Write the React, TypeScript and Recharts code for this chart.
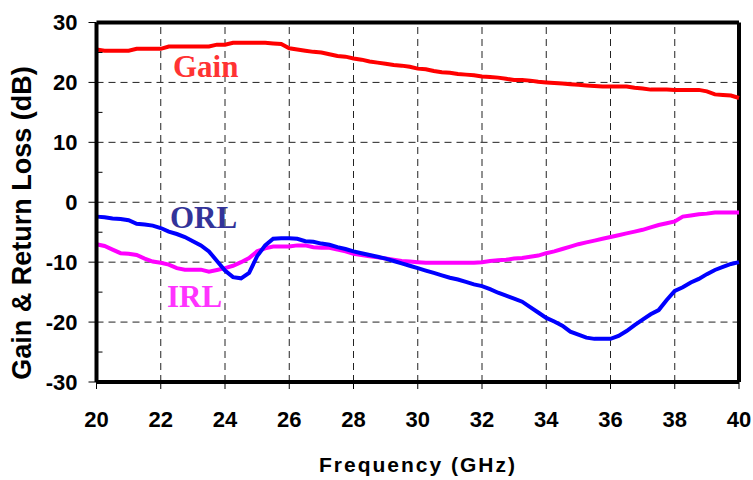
import React from 'react';
import {
  LineChart,
  Line,
  XAxis,
  YAxis,
  ReferenceLine,
} from 'recharts';

// frequency in GHz, 0.25 GHz step
const freq = [
  20, 20.25, 20.5, 20.75, 21, 21.25, 21.5, 21.75, 22, 22.25, 22.5, 22.75,
  23, 23.25, 23.5, 23.75, 24, 24.25, 24.5, 24.75, 25, 25.25, 25.5, 25.75,
  26, 26.25, 26.5, 26.75, 27, 27.25, 27.5, 27.75, 28, 28.25, 28.5, 28.75,
  29, 29.25, 29.5, 29.75, 30, 30.25, 30.5, 30.75, 31, 31.25, 31.5, 31.75,
  32, 32.25, 32.5, 32.75, 33, 33.25, 33.5, 33.75, 34, 34.25, 34.5, 34.75,
  35, 35.25, 35.5, 35.75, 36, 36.25, 36.5, 36.75, 37, 37.25, 37.5, 37.75,
  38, 38.25, 38.5, 38.75, 39, 39.25, 39.5, 39.75, 40,
];

const gain = [
  25.5, 25.3, 25.3, 25.3, 25.3, 25.6, 25.6, 25.6, 25.6, 26.0, 26.0, 26.0,
  26.0, 26.0, 26.0, 26.3, 26.3, 26.6, 26.6, 26.6, 26.6, 26.6, 26.5, 26.4,
  25.7, 25.5, 25.3, 25.1, 25.0, 24.7, 24.4, 24.3, 24.0, 23.8, 23.5, 23.3,
  23.1, 22.9, 22.8, 22.6, 22.3, 22.2, 21.9, 21.7, 21.6, 21.4, 21.3, 21.2,
  21.0, 20.9, 20.8, 20.6, 20.4, 20.4, 20.3, 20.1, 20.0, 19.9, 19.8, 19.7,
  19.6, 19.5, 19.4, 19.3, 19.3, 19.3, 19.3, 19.1, 19.0, 18.8, 18.8, 18.8,
  18.75, 18.75, 18.75, 18.75, 18.5, 18.0, 17.9, 17.8, 17.4,
];

const orl = [
  -2.4, -2.5, -2.7, -2.8, -3.0, -3.6, -3.7, -3.9, -4.3, -4.9, -5.3, -5.8,
  -6.5, -7.2, -8.2, -9.8, -11.4, -12.5, -12.7, -11.8, -9.0, -7.2, -6.1, -6.0,
  -6.0, -6.1, -6.5, -6.6, -6.9, -7.1, -7.5, -7.8, -8.2, -8.5, -8.8, -9.1,
  -9.4, -9.8, -10.2, -10.6, -11.0, -11.4, -11.8, -12.2, -12.6, -12.9, -13.3, -13.7,
  -14.0, -14.5, -15.1, -15.6, -16.1, -16.6, -17.5, -18.4, -19.3, -19.9, -20.6, -21.6,
  -22.1, -22.6, -22.8, -22.8, -22.8, -22.3, -21.5, -20.5, -19.6, -18.7, -18.0, -16.3,
  -14.8, -14.2, -13.4, -12.8, -12.0, -11.3, -10.8, -10.3, -10.0,
];

const irl = [
  -7.0, -7.3, -7.9, -8.5, -8.6, -8.8, -9.4, -9.9, -10.1, -10.4, -11.0, -11.25,
  -11.25, -11.25, -11.6, -11.3, -11.0, -10.6, -10.0, -9.3, -8.2, -7.7, -7.4, -7.4,
  -7.4, -7.2, -7.2, -7.5, -7.6, -7.6, -7.9, -8.2, -8.6, -8.8, -9.0, -9.2,
  -9.4, -9.6, -9.8, -9.9, -10.0, -10.1, -10.1, -10.1, -10.1, -10.1, -10.1, -10.1,
  -10.0, -9.8, -9.7, -9.6, -9.4, -9.3, -9.1, -8.9, -8.5, -8.2, -7.8, -7.4,
  -7.0, -6.7, -6.4, -6.1, -5.8, -5.5, -5.2, -4.9, -4.6, -4.2, -3.8, -3.5,
  -3.2, -2.4, -2.2, -2.0, -1.9, -1.7, -1.7, -1.7, -1.7,
];

const xTicks = [20, 22, 24, 26, 28, 30, 32, 34, 36, 38, 40];
const yTicks = [-30, -25, -20, -15, -10, -5, 0, 5, 10, 15, 20, 25, 30];
const xGrid = [22, 24, 26, 28, 30, 32, 34, 36, 38];
const yGrid = [-20, -10, 0, 10, 20];

const data = freq.map((f, i) => ({ f, gain: gain[i], orl: orl[i], irl: irl[i] }));

const sans = '"Liberation Sans", Arial, sans-serif';
const serif = '"Liberation Serif", "Times New Roman", serif';

// major ticks outside with a label, minor ticks inside the frame
function YTick({ x, y, payload }: any) {
  const v = payload.value;
  if (v % 10 !== 0) {
    return <line x1={x} x2={x + 6} y1={y} y2={y} stroke="#000" strokeWidth={1} />;
  }
  return (
    <g>
      <line x1={x - 8} x2={x} y1={y} y2={y} stroke="#000" strokeWidth={1} />
      <text
        x={x - 19}
        y={y}
        dy="0.36em"
        textAnchor="end"
        fontFamily={sans}
        fontWeight="bold"
        fontSize={22}
        fill="#000"
      >
        {v}
      </text>
    </g>
  );
}

export default function App() {
  return (
    <div style={{ position: 'absolute', left: 0, top: 0, width: 753, height: 480, background: '#fff' }}>
      <LineChart
        width={753}
        height={480}
        data={data}
        margin={{ top: 22.5, right: 14, left: 36.5, bottom: 58 }}
      >
        {xGrid.map((v) => (
          <ReferenceLine key={'gx' + v} x={v} stroke="#222" strokeWidth={1} strokeDasharray="7 5" />
        ))}
        {yGrid.map((v) => (
          <ReferenceLine key={'gy' + v} y={v} stroke="#222" strokeWidth={1} strokeDasharray="7 5" />
        ))}
        <XAxis
          dataKey="f"
          type="number"
          domain={[20, 40]}
          ticks={xTicks}
          height={40}
          axisLine={{ stroke: '#000', strokeWidth: 4 }}
          tickLine={{ stroke: '#000', strokeWidth: 1 }}
          tickSize={7}
          tickMargin={22}
          tick={{ fill: '#000', fontFamily: sans, fontWeight: 'bold', fontSize: 22 }}
        />
        <YAxis
          type="number"
          domain={[-30, 30]}
          ticks={yTicks}
          width={60}
          axisLine={{ stroke: '#000', strokeWidth: 4 }}
          tickLine={false}
          tickSize={0}
          tickMargin={0}
          tick={<YTick />}
          interval={0}
        />
        <ReferenceLine y={30} stroke="#000" strokeWidth={4} />
        <ReferenceLine x={40} stroke="#000" strokeWidth={4} />
        <Line dataKey="gain" type="linear" stroke="#ff0000" strokeWidth={4} dot={false} isAnimationActive={false} />
        <Line dataKey="irl" type="linear" stroke="#ff00ff" strokeWidth={4} dot={false} isAnimationActive={false} />
        <Line dataKey="orl" type="linear" stroke="#0000ff" strokeWidth={4} dot={false} isAnimationActive={false} />
      </LineChart>
      <svg
        width={753}
        height={480}
        style={{ position: 'absolute', left: 0, top: 0, pointerEvents: 'none' }}
      >
        <text x={173} y={77} fontFamily={serif} fontWeight="bold" fontSize={31} fill="#ff3333">Gain</text>
        <text x={170} y={228} fontFamily={serif} fontWeight="bold" fontSize={31} fill="#333399">ORL</text>
        <text x={167} y={307} fontFamily={serif} fontWeight="bold" fontSize={31} fill="#ff33ff">IRL</text>
        <text
          x={418}
          y={472}
          textAnchor="middle"
          fontFamily={sans}
          fontWeight="bold"
          fontSize={21}
          letterSpacing={2}
          fill="#000"
        >
          Frequency (GHz)
        </text>
        <text
          transform="translate(31,223) rotate(-90)"
          textAnchor="middle"
          fontFamily={sans}
          fontWeight="bold"
          fontSize={27}
          fill="#000"
        >
          Gain &amp; Return Loss (dB)
        </text>
      </svg>
    </div>
  );
}
